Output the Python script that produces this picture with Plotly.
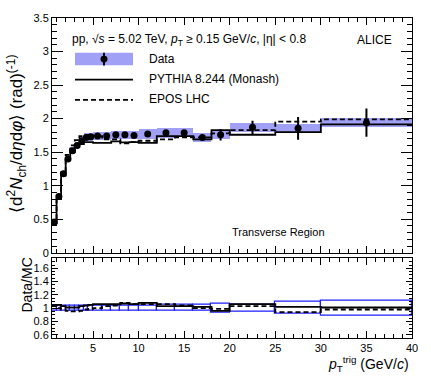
import plotly.graph_objects as go

# ---- data ----
bin_edges = [0.5, 1, 1.5, 2, 2.5, 3, 3.5, 4, 4.5, 5, 6, 7, 8, 9, 10, 12, 14, 16, 18, 20, 25, 30, 40]
data_vals = [0.46, 0.84, 1.18, 1.40, 1.52, 1.60, 1.67, 1.72, 1.73, 1.74, 1.74, 1.76, 1.76, 1.75,
             1.77, 1.79, 1.79, 1.72, 1.76, 1.87, 1.855, 1.94]
data_stat = [0.01, 0.01, 0.01, 0.01, 0.01, 0.01, 0.01, 0.01, 0.01, 0.01, 0.01, 0.015, 0.015, 0.015,
             0.02, 0.025, 0.03, 0.035, 0.085, 0.10, 0.17, 0.21]
data_sys = [0.02, 0.03, 0.04, 0.05, 0.05, 0.055, 0.06, 0.06, 0.06, 0.06, 0.06, 0.06, 0.06, 0.06,
            0.07, 0.075, 0.07, 0.065, 0.06, 0.07, 0.07, 0.065]
pythia_vals = [0.44, 0.80, 1.15, 1.39, 1.50, 1.58, 1.62, 1.65, 1.65, 1.64, 1.64, 1.66, 1.645, 1.65,
               1.64, 1.74, 1.74, 1.69, 1.83, 1.76, 1.80, 1.915]
epos_vals = [0.45, 0.84, 1.20, 1.46, 1.60, 1.68, 1.74, 1.755, 1.75, 1.74, 1.69, 1.69, 1.63, 1.65,
             1.67, 1.69, 1.72, 1.72, 1.78, 1.83, 1.955, 1.99]
ratio_pythia = [1.05, 1.05, 1.03, 1.01, 1.01, 1.01, 1.03, 1.04, 1.05, 1.06, 1.06, 1.06, 1.07, 1.06,
                1.08, 1.03, 1.03, 1.02, 0.96, 1.06, 1.02, 1.01]
ratio_epos = [1.03, 1.00, 0.98, 0.96, 0.95, 0.95, 0.96, 0.98, 0.99, 1.00, 1.03, 1.04, 1.08, 1.06,
              1.06, 1.06, 1.04, 1.00, 0.99, 1.03, 0.94, 0.98]
ratio_unc = [0.035, 0.035, 0.035, 0.035, 0.035, 0.035, 0.035, 0.035, 0.035, 0.035, 0.035, 0.035,
             0.035, 0.035, 0.04, 0.045, 0.045, 0.045, 0.065, 0.05, 0.09, 0.107]

centers = [(a + b) / 2 for a, b in zip(bin_edges[:-1], bin_edges[1:])]
widths = [b - a for a, b in zip(bin_edges[:-1], bin_edges[1:])]

FONT = "Liberation Sans, Arial, sans-serif"
BAND = "rgb(160,160,246)"

fig = go.Figure()

# systematic band (main)
fig.add_trace(go.Bar(x=centers, width=widths, base=[v - s for v, s in zip(data_vals, data_sys)],
                     y=[2 * s for s in data_sys], marker=dict(color=BAND, line=dict(width=0)),
                     xaxis="x", yaxis="y", showlegend=False))

def step(vals):
    return bin_edges, vals + [vals[-1]]

xs, ys = step(pythia_vals)
fig.add_trace(go.Scatter(x=xs, y=ys, mode="lines", line=dict(color="black", width=1.8, shape="hv"),
                         xaxis="x", yaxis="y", showlegend=False))
xs, ys = step(epos_vals)
fig.add_trace(go.Scatter(x=xs, y=ys, mode="lines",
                         line=dict(color="black", width=1.8, shape="hv", dash="5px,3px"),
                         xaxis="x", yaxis="y", showlegend=False))
fig.add_trace(go.Scatter(x=centers, y=data_vals, mode="markers",
                         marker=dict(color="black", size=7, symbol="circle"),
                         error_y=dict(type="data", array=data_stat, color="black", thickness=2, width=0),
                         xaxis="x", yaxis="y", showlegend=False))

# ratio panel
fig.add_trace(go.Bar(x=centers, width=widths, base=[1 - u for u in ratio_unc],
                     y=[2 * u for u in ratio_unc],
                     marker=dict(color="rgba(0,0,0,0)", line=dict(color="rgb(30,30,255)", width=1.2)),
                     xaxis="x2", yaxis="y2", showlegend=False))
xs, ys = step(ratio_pythia)
fig.add_trace(go.Scatter(x=xs, y=ys, mode="lines", line=dict(color="black", width=1.8, shape="hv"),
                         xaxis="x2", yaxis="y2", showlegend=False))
xs, ys = step(ratio_epos)
fig.add_trace(go.Scatter(x=xs, y=ys, mode="lines",
                         line=dict(color="black", width=1.8, shape="hv", dash="5px,3px"),
                         xaxis="x2", yaxis="y2", showlegend=False))

W, H = 431, 376
L, R, T, B = 52, 19, 15, 38
PW, PH = W - L - R, H - T - B


def px(xp):
    return (xp - L) / PW


def py(yp):
    return (H - B - yp) / PH


axis_common = dict(showline=True, linecolor="black", linewidth=1, mirror="allticks", ticks="inside",
                   showgrid=False, zeroline=False, tickcolor="black",
                   tickfont=dict(family=FONT, size=11, color="black"))

fig.update_layout(
    width=W, height=H, margin=dict(l=L, r=R, t=T, b=B), plot_bgcolor="white", paper_bgcolor="white",
    barmode="overlay", bargap=0,
    xaxis=dict(domain=[0, 1], anchor="y", range=[0.5, 40], tick0=0, dtick=5, ticklen=7,
               showticklabels=False, minor=dict(dtick=1, ticklen=4, ticks="inside", tickcolor="black"),
               **axis_common),
    yaxis=dict(domain=[py(252), 1], anchor="x", range=[0, 3.5], tick0=0, dtick=0.5, ticklen=11,
               minor=dict(dtick=0.1, ticklen=5, ticks="inside", tickcolor="black"), **axis_common),
    xaxis2=dict(domain=[0, 1], anchor="y2", range=[0.5, 40], tick0=0, dtick=5, ticklen=7,
                minor=dict(dtick=1, ticklen=4, ticks="inside", tickcolor="black"), **axis_common),
    yaxis2=dict(domain=[0, py(257)], anchor="x2", range=[0.55, 1.76], tickvals=[0.6, 0.8, 1, 1.2, 1.4, 1.6],
                ticktext=["0.6", "0.8", "1", "1.2", "1.4", "1.6"], ticklen=6,
                minor=dict(dtick=0.05, ticklen=3, ticks="inside", tickcolor="black"), **axis_common),
)

# legend (drawn manually in ROOT style)
shapes = [
    dict(type="rect", xref="paper", yref="paper", x0=px(75), x1=px(133), y0=py(62.7), y1=py(50),
         fillcolor=BAND, line=dict(width=0)),
    dict(type="line", xref="paper", yref="paper", x0=px(104), x1=px(104), y0=py(63), y1=py(50),
         line=dict(color="black", width=2)),
    dict(type="circle", xref="paper", yref="paper", x0=px(100.5), x1=px(107.5), y0=py(60), y1=py(53),
         fillcolor="black", line=dict(color="black", width=0)),
    dict(type="line", xref="paper", yref="paper", x0=px(75), x1=px(133), y0=py(77.3), y1=py(77.3),
         line=dict(color="black", width=1.8)),
    dict(type="line", xref="paper", yref="paper", x0=px(75), x1=px(133), y0=py(97.7), y1=py(97.7),
         line=dict(color="black", width=1.8, dash="5px,3px")),
]
fig.update_layout(shapes=shapes)

def ann(text, x, y, size=12, xanchor="left", angle=0):
    fig.add_annotation(text=text, xref="paper", yref="paper", x=x, y=y, xanchor=xanchor, yanchor="middle",
                       showarrow=False, textangle=angle, font=dict(family=FONT, size=size, color="black"))

ann("pp, √<i>s</i> = 5.02 TeV, <i>p</i><sub>T</sub> ≥ 0.15 GeV/<i>c</i>, |η| &lt; 0.8", px(70), py(37), 12)
ann("ALICE", px(355), py(37), 12)
ann("Data", px(147), py(56), 12)
ann("PYTHIA 8.244 (Monash)", px(147), py(77), 12)
ann("EPOS LHC", px(147), py(97), 12)
ann("Transverse Region", px(278), py(231), 11, xanchor="center")
ann("⟨d<sup>2</sup><i>N</i><sub>ch</sub>/d<i>η</i>d<i>φ</i>⟩ (rad)<sup>(-1)</sup>", px(17), py(132), 17,
    xanchor="center", angle=-90)
ann("Data/MC", px(27), py(285), 14, xanchor="center", angle=-90)
ann("<i>p</i><sub>T</sub><sup>trig</sup> (GeV/<i>c</i>)", px(411), py(364), 14, xanchor="right")

fig.write_html("out.html", config={"displayModeBar": False},
               post_script="document.body.style.margin='0';document.body.style.overflow='hidden';")
